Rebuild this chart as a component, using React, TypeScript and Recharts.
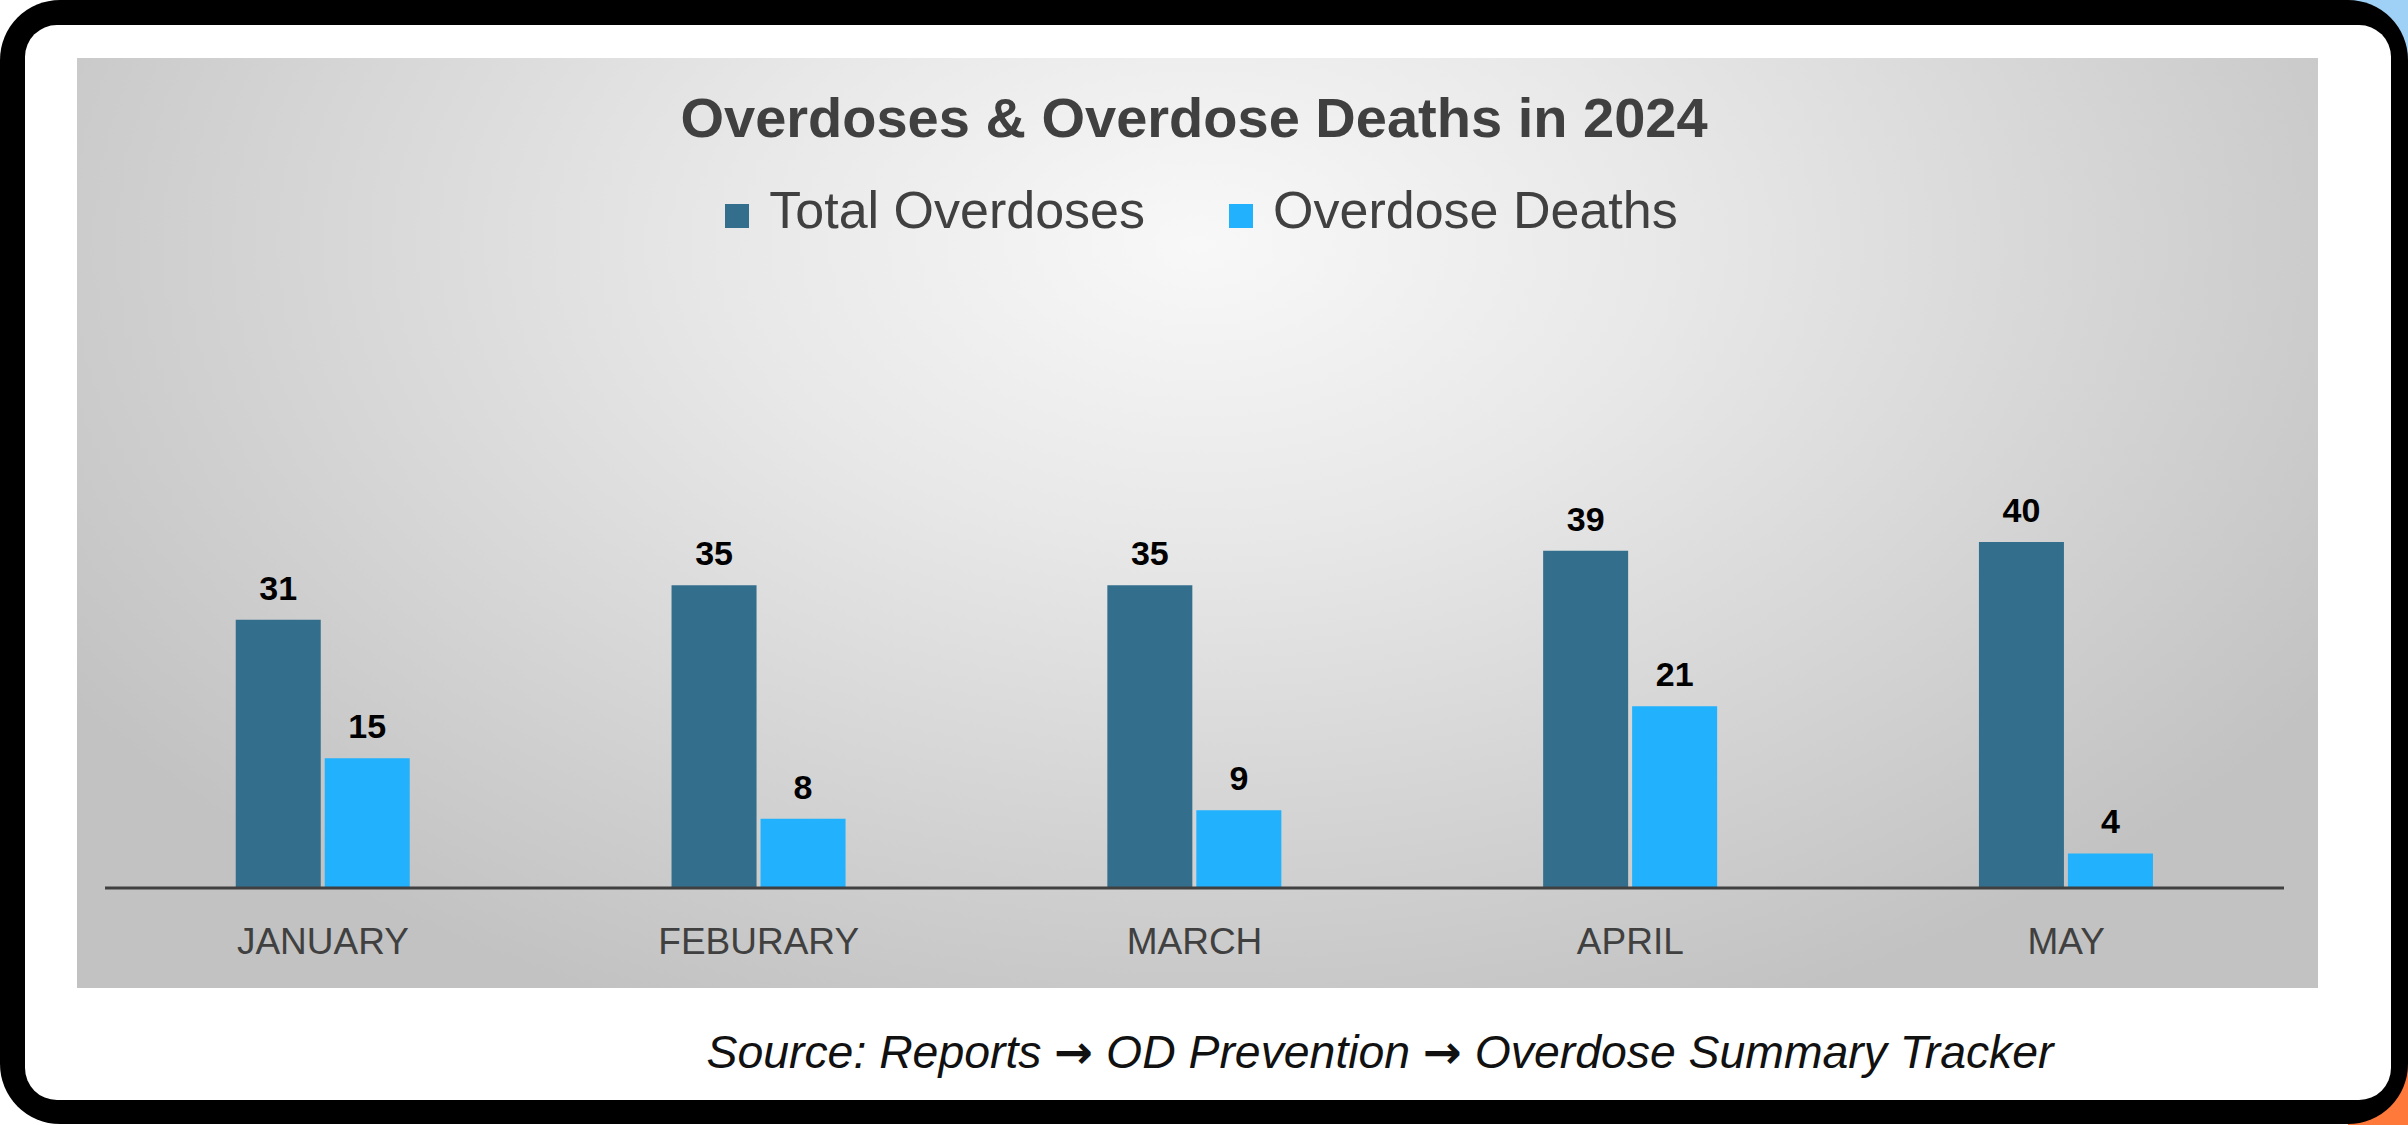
import React from 'react';
import { BarChart, Bar, XAxis, YAxis, Legend, LabelList } from 'recharts';

const months = ['JANUARY', 'FEBURARY', 'MARCH', 'APRIL', 'MAY'];
const totalOverdoses = [31, 35, 35, 39, 40];
const overdoseDeaths = [15, 8, 9, 21, 4];
const seriesOrder = ['total', 'deaths'];

const chartData = months.map((month, i) => ({
  month,
  total: totalOverdoses[i],
  deaths: overdoseDeaths[i],
}));

const FONT = '"Liberation Sans", Arial, sans-serif';

// legend drawn from recharts' own payload, squares sit on the text baseline
const renderLegend = (props: any) => {
  const payload = [...(props.payload || [])].sort(
    (a: any, b: any) => seriesOrder.indexOf(a.dataKey) - seriesOrder.indexOf(b.dataKey)
  );
  return (
    <div
      style={{
        textAlign: 'center',
        paddingLeft: 8,
        fontSize: 52,
        lineHeight: '52px',
        color: '#404040',
        fontFamily: FONT,
        whiteSpace: 'nowrap',
      }}
    >
      {payload.map((entry: any, index: number) => (
        <span key={`item-${index}`} style={{ marginLeft: index ? 84 : 0 }}>
          <span
            style={{
              display: 'inline-block',
              width: 24,
              height: 24,
              background: entry.color,
              marginRight: 20,
            }}
          />
          {entry.value}
        </span>
      ))}
    </div>
  );
};

const arrow = <tspan fontFamily='"DejaVu Sans", sans-serif' fontStyle="normal" fontWeight="bold">→</tspan>;

export default function App() {
  return (
    <div style={{ position: 'relative', width: 2408, height: 1125, background: '#fff', overflow: 'hidden' }}>
      <style>{'body{margin:0}'}</style>
      {/* bits of the page behind the frame corners */}
      <div style={{ position: 'absolute', right: 0, top: 0, width: 90, height: 60, background: '#9fd0f5' }} />
      <div style={{ position: 'absolute', right: 0, bottom: 0, width: 60, height: 60, background: '#ff7a3a' }} />
      {/* black frame */}
      <div style={{ position: 'absolute', left: 0, top: 0, width: 2408, height: 1124, background: '#000', borderRadius: 60 }} />
      <div style={{ position: 'absolute', left: 25, top: 25, width: 2366, height: 1075, background: '#fff', borderRadius: 32 }} />

      {/* gray chart panel */}
      <div
        style={{
          position: 'absolute',
          left: 77,
          top: 58,
          width: 2241,
          height: 930,
          background:
            'radial-gradient(ellipse 60% 90% at 50% 20%, #f8f8f8 0%, #e8e8e8 35%, #c2c2c2 100%)',
        }}
      >
        <BarChart
          width={2241}
          height={930}
          data={chartData}
          margin={{ top: 397.5, right: 34, bottom: 0, left: 28 }}
          barCategoryGap="30%"
          barGap={4}
        >
          <XAxis
            dataKey="month"
            interval={0}
            tickLine={false}
            tickSize={0}
            tickMargin={40}
            height={100}
            axisLine={{ stroke: '#404040', strokeWidth: 3 }}
            tick={{ fill: '#404040', fontSize: 37, fontFamily: FONT }}
          />
          <YAxis hide domain={[0, 50]} />
          <Legend
            verticalAlign="middle"
            align="center"
            content={renderLegend}
            wrapperStyle={{ top: 126, left: 0, width: 2241 }}
          />
          <Bar dataKey="total" name="Total Overdoses" fill="#336f8c" isAnimationActive={false}>
            <LabelList
              dataKey="total"
              position="top"
              offset={20}
              fill="#000"
              fontSize={34}
              fontWeight="bold"
              fontFamily={FONT}
            />
          </Bar>
          <Bar dataKey="deaths" name="Overdose Deaths" fill="#21b1fd" isAnimationActive={false}>
            <LabelList
              dataKey="deaths"
              position="top"
              offset={20}
              fill="#000"
              fontSize={34}
              fontWeight="bold"
              fontFamily={FONT}
            />
          </Bar>
        </BarChart>
      </div>

      {/* title and source line */}
      <svg width={2408} height={1125} style={{ position: 'absolute', left: 0, top: 0, pointerEvents: 'none' }}>
        <text
          x={1194}
          y={137}
          textAnchor="middle"
          fontSize={56}
          fontWeight="bold"
          fill="#404040"
          fontFamily={FONT}
        >
          Overdoses &amp; Overdose Deaths in 2024
        </text>
        <text
          x={1380}
          y={1068}
          textAnchor="middle"
          fontSize={46}
          fontStyle="italic"
          fill="#111"
          fontFamily={FONT}
          textLength={1347}
          lengthAdjust="spacingAndGlyphs"
        >
          Source: Reports {arrow} OD Prevention {arrow} Overdose Summary Tracker
        </text>
      </svg>
    </div>
  );
}
